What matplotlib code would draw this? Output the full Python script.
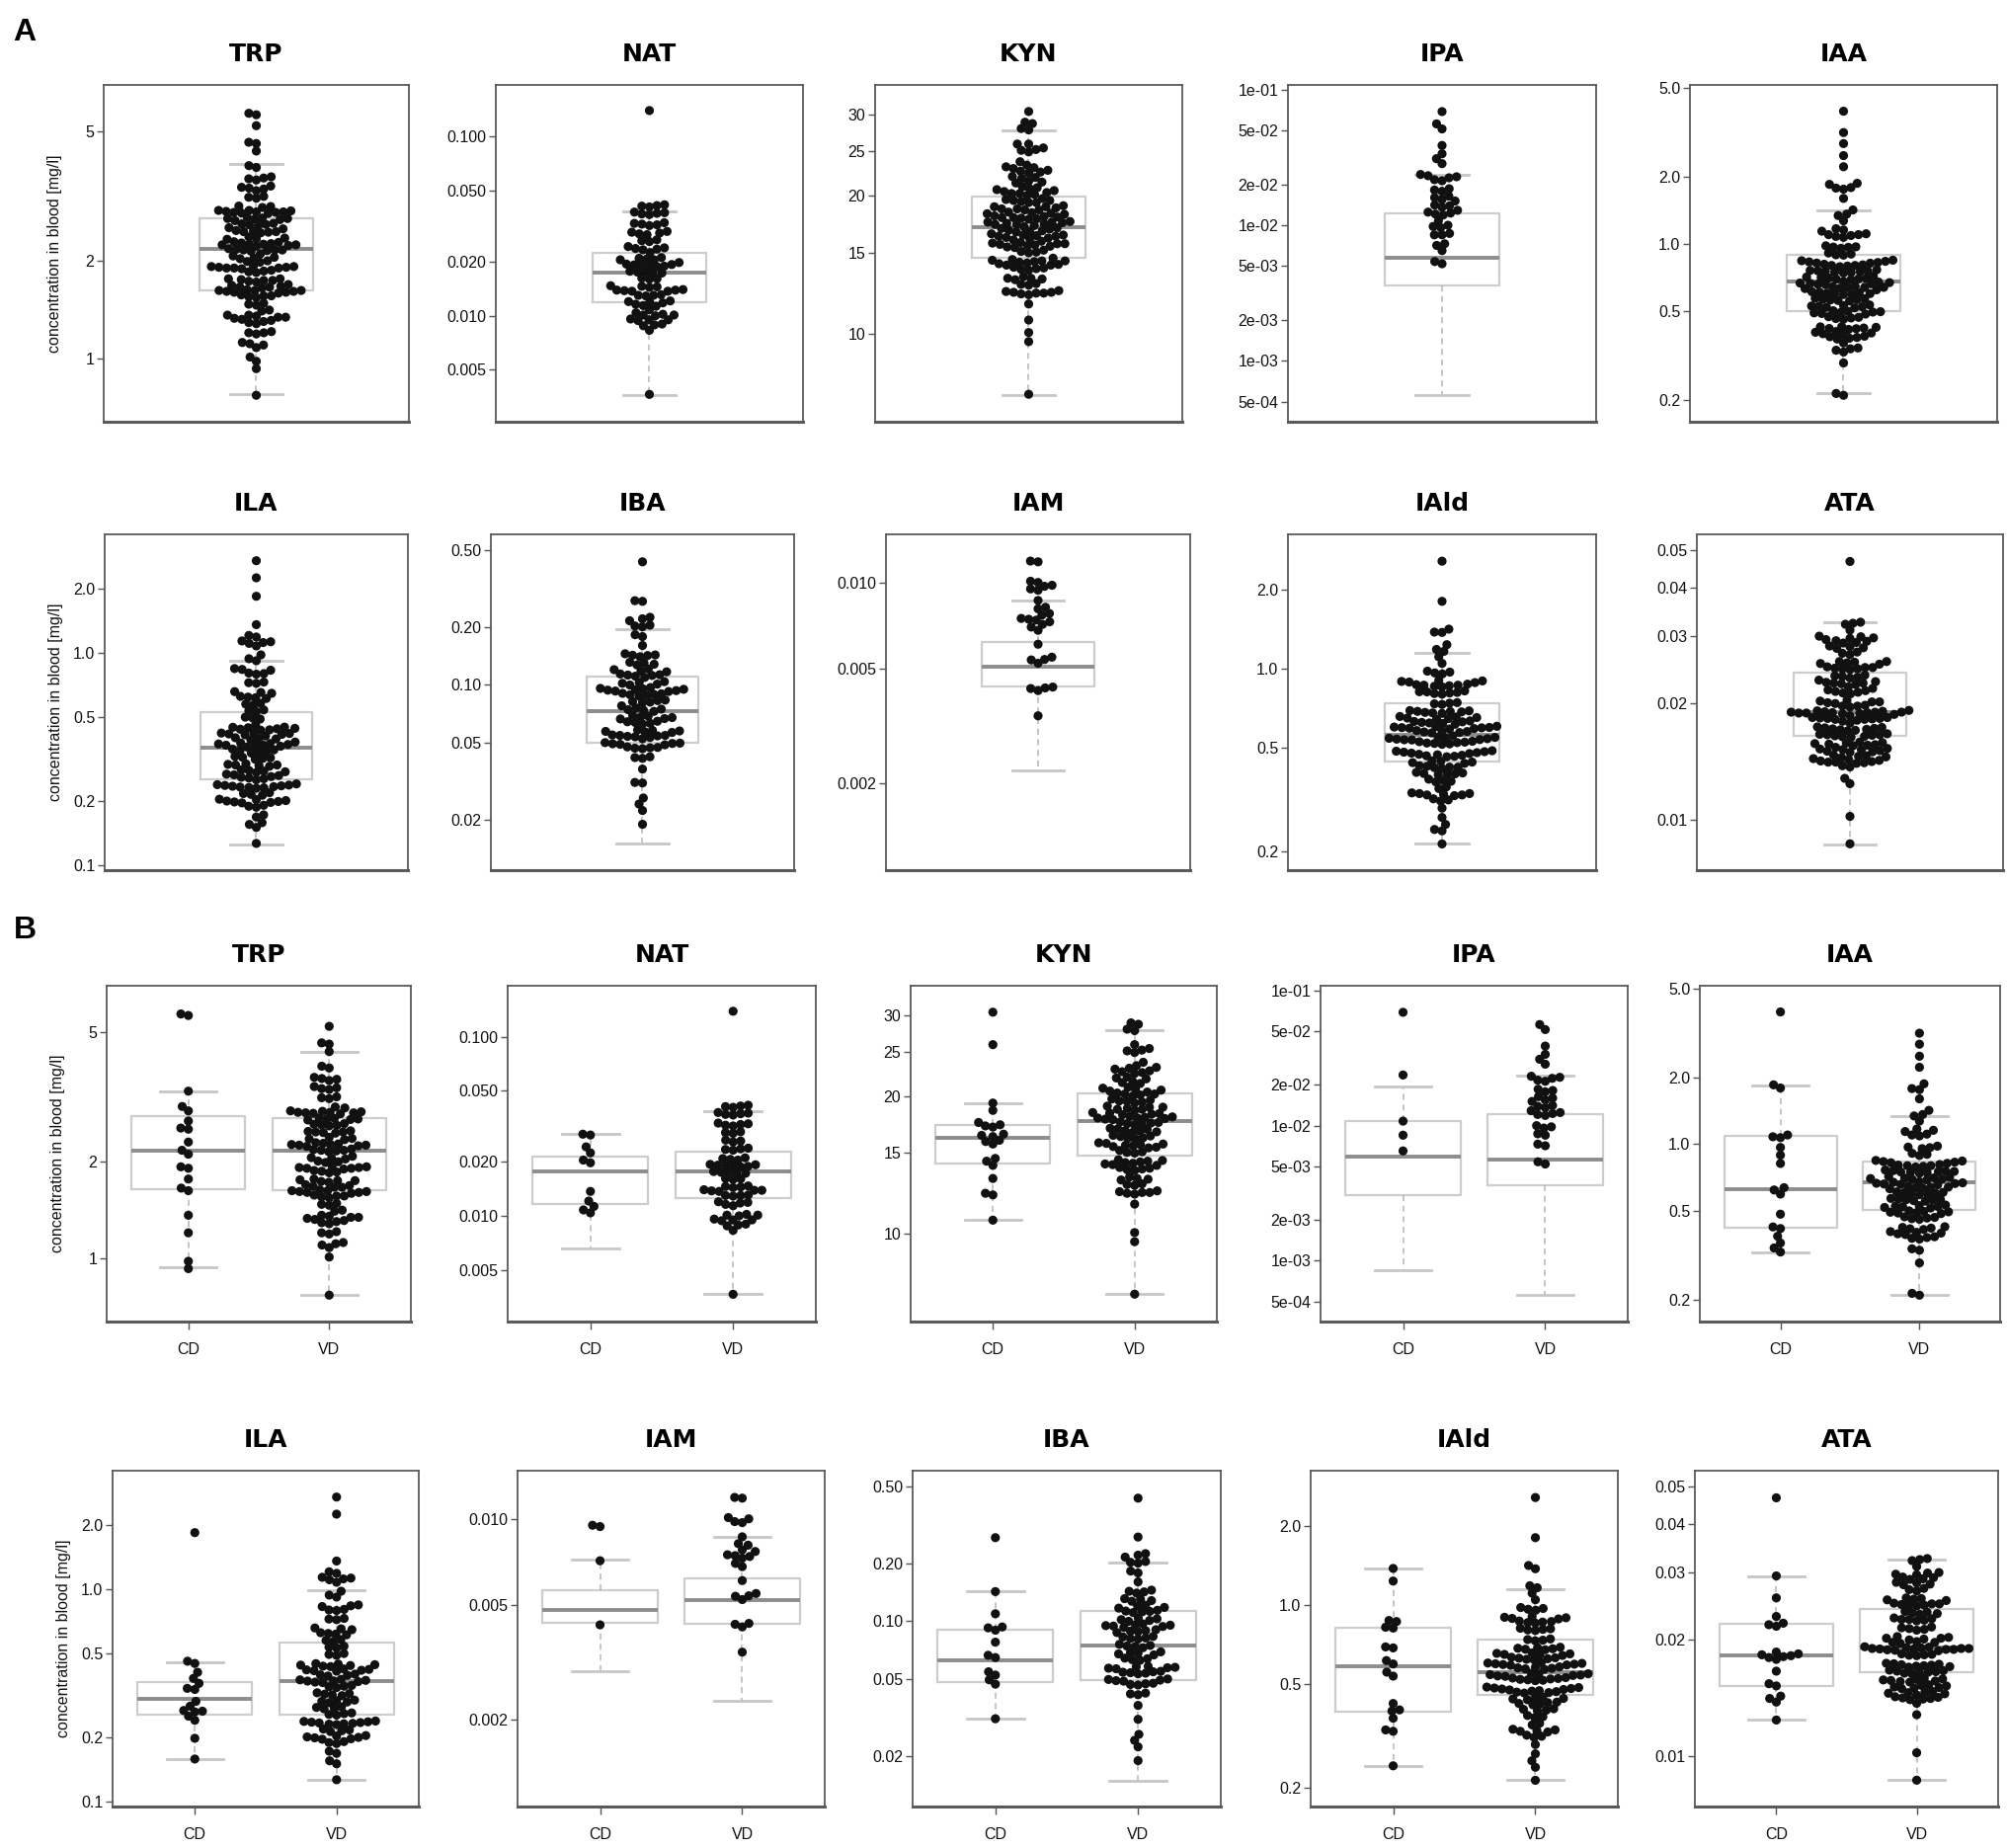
import warnings
import matplotlib
matplotlib.use("Agg")
import matplotlib.pyplot as plt
from matplotlib import patheffects as pe
from matplotlib.ticker import FixedLocator, FixedFormatter, NullLocator
import seaborn as sns

warnings.filterwarnings("ignore")
plt.rcParams['font.family'] = ['Liberation Sans', 'DejaVu Sans']

# ---- data (mg/l) ----
trp_cd = [5.70, 5.64, 3.29, 2.95, 2.86, 2.66, 2.53, 2.51, 2.29, 2.16, 2.10, 1.92, 1.90,
          1.76, 1.65, 1.62, 1.36, 1.20, 0.98, 0.93]
trp_vd = [5.22, 4.64, 4.60, 4.36, 3.93, 3.88, 3.63, 3.60, 3.58, 3.55, 3.40, 3.37, 3.35, 3.33,
          3.16, 3.14, 3.12, 2.94, 2.92, 2.86, 2.85, 2.84, 2.83, 2.83, 2.82, 2.82, 2.81, 2.80,
          2.72, 2.71, 2.70, 2.70, 2.69, 2.68, 2.61, 2.60, 2.59, 2.58, 2.57,
          2.48, 2.47, 2.46, 2.46, 2.45, 2.44, 2.37, 2.35, 2.34, 2.33,
          2.28, 2.27, 2.26, 2.25, 2.25, 2.24, 2.24, 2.23, 2.22, 2.18, 2.17, 2.16, 2.16, 2.15, 2.14,
          2.07, 2.05, 2.04, 2.03, 2.00, 1.99, 1.98, 1.93, 1.92, 1.91, 1.91, 1.90, 1.90, 1.89,
          1.87, 1.86, 1.85, 1.84, 1.76, 1.75, 1.74, 1.74, 1.73, 1.72, 1.69, 1.68, 1.67, 1.66, 1.66,
          1.63, 1.62, 1.62, 1.61, 1.61, 1.60, 1.60, 1.59, 1.57, 1.56, 1.56, 1.55, 1.54,
          1.48, 1.47, 1.46, 1.41, 1.40, 1.36, 1.35, 1.34, 1.34, 1.33, 1.32, 1.31, 1.30, 1.29, 1.28,
          1.21, 1.20, 1.19, 1.12, 1.11, 1.10, 1.08, 1.01, 0.77]

nat_cd = [0.0286, 0.0283, 0.0243, 0.0225, 0.0205, 0.0198, 0.0137, 0.0121, 0.0113, 0.0108, 0.0104]
nat_vd = [0.139, 0.0415, 0.0411, 0.0408, 0.0404, 0.0378, 0.0375, 0.0372, 0.0369, 0.0366,
          0.0330, 0.0327, 0.0324, 0.0321, 0.0318, 0.0295, 0.0292, 0.0289, 0.0265, 0.0262, 0.0259,
          0.0239, 0.0237, 0.0235, 0.0233, 0.0211, 0.0209, 0.0207, 0.0205,
          0.0194, 0.0193, 0.0192, 0.0191, 0.0190, 0.0189, 0.0188, 0.0177, 0.0176, 0.0175, 0.0174, 0.0173,
          0.0162, 0.0161, 0.0160, 0.0147, 0.0146, 0.0145, 0.0144, 0.0140, 0.0139, 0.0139, 0.0138, 0.0137,
          0.0131, 0.0130, 0.0130, 0.0129, 0.0120, 0.0119, 0.0118, 0.0116, 0.0114,
          0.0102, 0.0101, 0.0101, 0.0100, 0.0096, 0.0095, 0.0095, 0.0094, 0.0090, 0.0089, 0.0088,
          0.0083, 0.00365]

kyn_cd = [30.5, 25.9, 19.3, 18.6, 17.5, 17.3, 17.2, 17.1, 16.5, 16.4, 16.3, 16.0, 15.9, 15.7,
          14.6, 14.4, 14.1, 13.2, 12.25, 12.15, 10.7]
kyn_vd = [28.9, 28.7, 28.0, 27.8, 25.9, 25.4, 25.2, 25.1, 24.9, 23.7, 23.3, 23.1, 23.0, 22.9,
          22.7, 22.6, 22.5, 22.4, 22.0, 21.9, 21.8, 21.5, 21.4, 21.3, 20.9, 20.8, 20.7, 20.6, 20.5,
          20.4, 20.3, 20.2, 20.2, 20.1, 20.0, 19.7, 19.6, 19.5, 19.5, 19.4, 19.3,
          19.0, 18.9, 18.9, 18.8, 18.7, 18.7, 18.6, 18.4, 18.35, 18.3, 18.25, 18.2,
          18.05, 18.0, 17.95, 17.9, 17.9, 17.85, 17.8, 17.75, 17.55, 17.5, 17.45, 17.4, 17.35, 17.3,
          17.0, 16.95, 16.9, 16.8, 16.75, 16.7, 16.65, 16.4, 16.35, 16.3, 16.2, 16.15, 16.1,
          15.8, 15.75, 15.7, 15.65, 15.6, 15.55, 15.5, 15.45, 15.4, 15.2, 15.1, 15.05, 15.0,
          14.5, 14.45, 14.4, 14.35, 14.3, 14.25, 14.2, 14.15, 14.1, 13.95, 13.9, 13.85, 13.8, 13.75,
          13.3, 13.2, 13.15, 13.1, 12.85, 12.8, 12.75, 12.4, 12.35, 12.3, 12.3, 12.25, 12.2,
          11.6, 10.05, 9.6, 7.37]

ipa_cd = [0.069, 0.0237, 0.0108, 0.0085, 0.0065]
ipa_vd = [0.056, 0.0514, 0.0388, 0.0337, 0.031, 0.0285, 0.0232, 0.0228, 0.0224, 0.0217, 0.0213,
          0.0186, 0.0182, 0.0178, 0.0164, 0.0160, 0.0155, 0.0151, 0.0141, 0.0139, 0.0136, 0.0129,
          0.0125, 0.0123, 0.0121, 0.0119, 0.0100, 0.0098, 0.0096, 0.0087, 0.0085, 0.0073, 0.0071,
          0.0054, 0.0052]

iaa_cd = [3.94, 1.85, 1.79, 1.10, 1.08, 1.07, 0.967, 0.893, 0.819, 0.637, 0.622, 0.596, 0.484,
          0.424, 0.417, 0.385, 0.359, 0.341, 0.327]
iaa_vd = [3.16, 2.82, 2.49, 2.22, 1.87, 1.78, 1.76, 1.60, 1.42, 1.36, 1.34, 1.27,
          1.17, 1.155, 1.14, 1.11, 1.10, 1.09, 0.98, 0.97, 0.965, 0.955, 0.91, 0.90, 0.89,
          0.845, 0.84, 0.835, 0.83, 0.825, 0.82, 0.81, 0.805, 0.80, 0.80, 0.795, 0.79,
          0.765, 0.76, 0.757, 0.754, 0.752, 0.75, 0.747, 0.744, 0.74,
          0.715, 0.71, 0.706, 0.703, 0.70, 0.697, 0.694, 0.69,
          0.678, 0.674, 0.67, 0.667, 0.665, 0.662, 0.659, 0.656,
          0.645, 0.641, 0.638, 0.636, 0.633, 0.63, 0.61, 0.607, 0.604, 0.601, 0.598, 0.595, 0.592,
          0.57, 0.567, 0.564, 0.562, 0.56, 0.557, 0.554, 0.532, 0.529, 0.526, 0.524, 0.522, 0.519, 0.516,
          0.501, 0.498, 0.496, 0.494, 0.492, 0.49, 0.487, 0.471, 0.468, 0.465, 0.462, 0.459,
          0.425, 0.422, 0.419, 0.416, 0.413, 0.404, 0.401, 0.398, 0.395, 0.392,
          0.383, 0.38, 0.377, 0.374, 0.338, 0.333, 0.292, 0.213, 0.209]

ila_cd = [1.85, 0.459, 0.448, 0.407, 0.381, 0.361, 0.342, 0.338, 0.297, 0.282, 0.269, 0.267,
          0.265, 0.253, 0.242, 0.199, 0.159]
ila_vd = [2.72, 2.26, 1.36, 1.21, 1.19, 1.14, 1.13, 1.12, 1.11, 1.08, 0.98, 0.94, 0.92,
          0.845, 0.837, 0.83, 0.805, 0.80, 0.795, 0.73, 0.725, 0.72, 0.658, 0.652, 0.646,
          0.625, 0.62, 0.616, 0.611, 0.58, 0.575, 0.57, 0.54, 0.535, 0.53, 0.499, 0.494, 0.489,
          0.447, 0.445, 0.442, 0.44, 0.438, 0.435, 0.433, 0.422, 0.42, 0.418, 0.416, 0.414, 0.412,
          0.399, 0.396, 0.394, 0.391, 0.377, 0.375, 0.373, 0.371, 0.37, 0.368, 0.366, 0.364,
          0.353, 0.35, 0.348, 0.345, 0.326, 0.323, 0.321, 0.319, 0.316,
          0.301, 0.299, 0.297, 0.295, 0.293, 0.28, 0.278, 0.276, 0.274, 0.262, 0.26, 0.258, 0.256,
          0.24, 0.239, 0.238, 0.237, 0.236, 0.235, 0.234, 0.233, 0.232, 0.231,
          0.22, 0.218, 0.216, 0.214, 0.205, 0.204, 0.202, 0.201, 0.2, 0.198, 0.197,
          0.192, 0.19, 0.188, 0.173, 0.169, 0.156, 0.151, 0.127]

iba_cd = [0.271, 0.1425, 0.1094, 0.0935, 0.0925, 0.0900, 0.078, 0.0667, 0.0649, 0.0548, 0.0527,
          0.0498, 0.0473, 0.0313]
iba_vd = [0.434, 0.273, 0.224, 0.220, 0.215, 0.204, 0.202, 0.200, 0.182, 0.178, 0.160,
          0.145, 0.143, 0.142, 0.140, 0.131, 0.13, 0.128, 0.127, 0.121, 0.12, 0.118, 0.117,
          0.114, 0.113, 0.1125, 0.112, 0.111, 0.104, 0.103, 0.102, 0.101, 0.100,
          0.097, 0.096, 0.0955, 0.095, 0.0945, 0.094, 0.093, 0.0905, 0.0895, 0.089, 0.0885, 0.0875,
          0.0835, 0.083, 0.082, 0.0815, 0.081, 0.076, 0.075, 0.0745, 0.074, 0.073,
          0.0695, 0.069, 0.0683, 0.0678, 0.067, 0.0645, 0.064, 0.0633, 0.0628,
          0.0585, 0.0582, 0.0578, 0.0575, 0.0572, 0.0568, 0.0551, 0.0548, 0.0545, 0.0542, 0.0539, 0.0535,
          0.0503, 0.05, 0.0496, 0.0493, 0.049, 0.0478, 0.0475, 0.0471, 0.0468,
          0.0425, 0.0421, 0.0417, 0.0367, 0.0311, 0.026, 0.0242, 0.0224, 0.019]

iam_cd = [0.0095, 0.0094, 0.00715, 0.00428]
iam_vd = [0.01187, 0.0118, 0.0101, 0.0100, 0.00978, 0.0097, 0.00866, 0.0082, 0.0081, 0.0078,
          0.0077, 0.0075, 0.00745, 0.0074, 0.0073, 0.0070, 0.00682, 0.0061, 0.0055, 0.0054,
          0.00538, 0.00524, 0.00433, 0.00430, 0.00421, 0.00344]

iald_cd = [1.374, 1.23, 0.87, 0.862, 0.82, 0.814, 0.69, 0.684, 0.612, 0.594, 0.553, 0.534,
           0.42, 0.397, 0.393, 0.369, 0.333, 0.329, 0.243]
iald_vd = [2.56, 1.80, 1.41, 1.37, 1.18, 1.16, 1.106, 1.044, 0.975, 0.967, 0.96, 0.952,
           0.90, 0.895, 0.891, 0.886, 0.882, 0.866, 0.862, 0.858, 0.854, 0.85,
           0.813, 0.809, 0.805, 0.801, 0.797, 0.74, 0.736, 0.732, 0.728,
           0.688, 0.685, 0.682, 0.679, 0.676, 0.673, 0.655, 0.652, 0.649, 0.646, 0.643, 0.64,
           0.63, 0.627, 0.625, 0.622, 0.619, 0.616, 0.601, 0.599, 0.597, 0.595, 0.593, 0.591, 0.589, 0.587,
           0.579, 0.577, 0.574, 0.572, 0.569, 0.567, 0.547, 0.545, 0.543, 0.541, 0.539, 0.537, 0.535, 0.533,
           0.527, 0.525, 0.523, 0.521, 0.519, 0.517, 0.515, 0.513, 0.485, 0.483, 0.481, 0.479, 0.477, 0.475, 0.473,
           0.47, 0.468, 0.466, 0.464, 0.462, 0.46, 0.444, 0.442, 0.439, 0.437, 0.434,
           0.425, 0.423, 0.42, 0.418, 0.415, 0.401, 0.399, 0.396, 0.394, 0.378, 0.374, 0.371,
           0.353, 0.348, 0.335, 0.333, 0.331, 0.329, 0.327, 0.318, 0.315, 0.312,
           0.293, 0.27, 0.254, 0.24, 0.214]

ata_cd = [0.0467, 0.0293, 0.0257, 0.0230, 0.0221, 0.0219, 0.0217, 0.0186, 0.0184, 0.0183, 0.0182,
          0.0181, 0.0180, 0.0178, 0.0166, 0.0154, 0.0152, 0.0143, 0.0141, 0.0138, 0.0124]
ata_vd = [0.0325, 0.0323, 0.0321, 0.031, 0.0299, 0.0298, 0.0296, 0.0295, 0.0291, 0.029, 0.0288, 0.0287,
          0.0282, 0.0281, 0.0279, 0.0278, 0.0272, 0.027, 0.0268, 0.0257, 0.0256, 0.0255, 0.0254, 0.0253,
          0.0249, 0.0248, 0.0248, 0.0247, 0.0246, 0.0246, 0.0245, 0.0237, 0.0236, 0.0235, 0.0234, 0.0233,
          0.0228, 0.0227, 0.0226, 0.0226, 0.0225, 0.0224, 0.0216, 0.0215, 0.0214, 0.0213, 0.0212,
          0.0204, 0.0203, 0.0202, 0.0202, 0.0201, 0.0200, 0.0198, 0.0197, 0.0197, 0.0196,
          0.0192, 0.01915, 0.0191, 0.01905, 0.0190, 0.0190, 0.0190, 0.01895, 0.01895, 0.0189, 0.0189,
          0.01885, 0.0188, 0.01875, 0.0184, 0.01835, 0.0183, 0.01825, 0.0182,
          0.0174, 0.01735, 0.0173, 0.01725, 0.0172, 0.01715, 0.0171, 0.01705, 0.0170,
          0.0167, 0.01665, 0.0166, 0.01655, 0.0165, 0.01645, 0.0164, 0.01635,
          0.0159, 0.01585, 0.0158, 0.01575, 0.0157, 0.01565, 0.0156, 0.01555,
          0.0153, 0.01525, 0.0152, 0.0151, 0.01505, 0.0150, 0.01495,
          0.0147, 0.01465, 0.0146, 0.01455, 0.0145, 0.0144, 0.01425, 0.0142, 0.01415, 0.0141, 0.01405, 0.0140,
          0.0137, 0.0128, 0.0102, 0.00866]

# box statistics: [lower whisker, Q1, median, Q3, upper whisker]
trp_box_all = [0.774, 1.624, 2.175, 2.714, 3.99]
trp_box_cd = [0.94, 1.64, 2.16, 2.76, 3.29]
trp_box_vd = [0.77, 1.62, 2.16, 2.71, 4.36]
nat_box_all = [0.0036, 0.0119, 0.0175, 0.0225, 0.0381]
nat_box_cd = [0.0066, 0.0117, 0.0178, 0.0215, 0.0286]
nat_box_vd = [0.00367, 0.0125, 0.0178, 0.0229, 0.0385]
kyn_box_all = [7.35, 14.6, 17.1, 19.9, 27.7]
kyn_box_cd = [10.7, 14.2, 16.2, 17.3, 19.3]
kyn_box_vd = [7.37, 14.8, 17.6, 20.3, 27.9]
ipa_box_all = [0.000563, 0.0036, 0.00573, 0.01216, 0.0237]
ipa_box_cd = [0.00085, 0.00308, 0.0059, 0.0108, 0.0194]
ipa_box_vd = [0.00056, 0.00365, 0.00563, 0.0121, 0.0234]
iaa_box_all = [0.213, 0.50, 0.678, 0.895, 1.416]
iaa_box_cd = [0.327, 0.422, 0.627, 1.086, 1.84]
iaa_box_vd = [0.209, 0.505, 0.673, 0.839, 1.34]
ila_box_all = [0.126, 0.254, 0.357, 0.529, 0.921]
ila_box_cd = [0.159, 0.258, 0.305, 0.368, 0.453]
ila_box_vd = [0.127, 0.256, 0.371, 0.561, 0.99]
iba_box_all = [0.0151, 0.050, 0.0731, 0.111, 0.195]
iba_box_cd = [0.0313, 0.0487, 0.063, 0.0906, 0.1425]
iba_box_vd = [0.0149, 0.0496, 0.0745, 0.1125, 0.2006]
iam_box_all = [0.00223, 0.00435, 0.00509, 0.0062, 0.00864]
iam_box_cd = [0.00296, 0.00436, 0.00484, 0.00567, 0.00719]
iam_box_vd = [0.00233, 0.00432, 0.0052, 0.00622, 0.00866]
iald_box_all = [0.215, 0.442, 0.556, 0.734, 1.149]
iald_box_cd = [0.243, 0.391, 0.581, 0.817, 1.374]
iald_box_vd = [0.214, 0.452, 0.553, 0.734, 1.146]
ata_box_all = [0.00865, 0.01646, 0.01897, 0.024, 0.0324]
ata_box_cd = [0.0124, 0.0152, 0.0182, 0.0220, 0.0293]
ata_box_vd = [0.00866, 0.0165, 0.0191, 0.0240, 0.0323]

# y tick labels
trp_ticks = ['1', '2', '5']
nat_ticks = ['0.005', '0.010', '0.020', '0.050', '0.100']
kyn_ticks = ['10', '15', '20', '25', '30']
ipa_ticks = ['5e-04', '1e-03', '2e-03', '5e-03', '1e-02', '2e-02', '5e-02', '1e-01']
iaa_ticks = ['0.2', '0.5', '1.0', '2.0', '5.0']
ila_ticks = ['0.1', '0.2', '0.5', '1.0', '2.0']
iba_ticks = ['0.02', '0.05', '0.10', '0.20', '0.50']
iam_ticks = ['0.002', '0.005', '0.010']
iald_ticks = ['0.2', '0.5', '1.0', '2.0']
ata_ticks = ['0.01', '0.02', '0.03', '0.04', '0.05']

groups = ['CD', 'VD']

# axis limits
ylims = {'TRP': (0.638, 6.97), 'NAT': (0.00257, 0.193), 'KYN': (6.42, 34.85),
         'IPA': (0.000355, 0.1085), 'IAA': (0.159, 5.17), 'ILA': (0.095, 3.62),
         'IBA': (0.0110, 0.602), 'IAM': (0.001, 0.0147), 'IAld': (0.170, 3.24),
         'ATA': (0.0074, 0.0549)}

data = {
    'TRP': (trp_cd, trp_vd, trp_box_all, trp_box_cd, trp_box_vd, trp_ticks),
    'NAT': (nat_cd, nat_vd, nat_box_all, nat_box_cd, nat_box_vd, nat_ticks),
    'KYN': (kyn_cd, kyn_vd, kyn_box_all, kyn_box_cd, kyn_box_vd, kyn_ticks),
    'IPA': (ipa_cd, ipa_vd, ipa_box_all, ipa_box_cd, ipa_box_vd, ipa_ticks),
    'IAA': (iaa_cd, iaa_vd, iaa_box_all, iaa_box_cd, iaa_box_vd, iaa_ticks),
    'ILA': (ila_cd, ila_vd, ila_box_all, ila_box_cd, ila_box_vd, ila_ticks),
    'IBA': (iba_cd, iba_vd, iba_box_all, iba_box_cd, iba_box_vd, iba_ticks),
    'IAM': (iam_cd, iam_vd, iam_box_all, iam_box_cd, iam_box_vd, iam_ticks),
    'IAld': (iald_cd, iald_vd, iald_box_all, iald_box_cd, iald_box_vd, iald_ticks),
    'ATA': (ata_cd, ata_vd, ata_box_all, ata_box_cd, ata_box_vd, ata_ticks),
}

# panel frames in pixels: left, top, right, bottom
rects_a = {'TRP': (105, 86, 414, 427), 'NAT': (502, 86, 813, 427), 'KYN': (886, 86, 1197, 427),
           'IPA': (1304, 86, 1616, 427), 'IAA': (1711, 86, 2022, 427),
           'ILA': (106, 541, 413, 881), 'IBA': (497, 541, 804, 881), 'IAM': (897, 541, 1205, 881),
           'IAld': (1304, 541, 1616, 881), 'ATA': (1718, 541, 2028, 881)}
rects_b = {'TRP': (108, 998, 416, 1338), 'NAT': (514, 998, 826, 1338), 'KYN': (922, 998, 1232, 1338),
           'IPA': (1337, 998, 1648, 1338), 'IAA': (1721, 998, 2025, 1338),
           'ILA': (114, 1489, 424, 1829), 'IAM': (524, 1489, 835, 1829), 'IBA': (924, 1489, 1236, 1829),
           'IAld': (1327, 1489, 1638, 1829), 'ATA': (1716, 1489, 2023, 1829)}

W, H = 2033, 1871
fig = plt.figure(figsize=(W / 100, H / 100), dpi=100)

DOT = '#111111'
SWARM_SIZE = 5.3    # spacing used by the swarm layout (points overlap a little, like R beeswarm)
DOT_GROW = 1.3      # extra stroke so the drawn dots are bigger than the spacing


def to_stats(b):
    return {'whislo': b[0], 'q1': b[1], 'med': b[2], 'q3': b[3], 'whishi': b[4], 'fliers': []}


def panel(rect, name, split, ylabel):
    cd, vd, box_all, box_cd, box_vd, ticklabels = data[name]
    l, t, r, b = rect
    ax = fig.add_axes([l / W, 1 - b / H, (r - l) / W, (b - t) / H])
    ax.set_yscale('log')
    ax.set_ylim(ylims[name])
    n0 = len(ax.collections)
    if split:
        xlim = (-0.58, 1.58)
        cats = [groups[0]] * len(cd) + [groups[1]] * len(vd)
        sns.swarmplot(x=cats, y=cd + vd, order=groups, color=DOT, size=SWARM_SIZE,
                      linewidth=0, ax=ax, zorder=3)
        stats = [to_stats(box_cd), to_stats(box_vd)]
        pos, bw, cw = [0, 1], 0.81, 0.40
    else:
        xlim = (-1.0, 1.0)
        sns.swarmplot(y=cd + vd, color=DOT, size=SWARM_SIZE, linewidth=0, ax=ax, zorder=3)
        stats = [to_stats(box_all)]
        pos, bw, cw = [0], 0.74, 0.34
    for coll in ax.collections[n0:]:
        coll.set_path_effects([pe.Stroke(linewidth=DOT_GROW, foreground=DOT), pe.Normal()])
    ax.bxp(stats, positions=pos, widths=bw, capwidths=cw, showfliers=False,
           manage_ticks=False, zorder=2,
           boxprops=dict(color='#cdcdcd', linewidth=1.6),
           medianprops=dict(color='#8d8d8d', linewidth=2.8),
           whiskerprops=dict(color='#b5b5b5', linewidth=1.1, linestyle=(0, (4, 3))),
           capprops=dict(color='#c6c6c6', linewidth=2.0))
    ax.set_xlim(xlim)
    ax.set_ylim(ylims[name])
    tick_vals = [float(s) for s in ticklabels]
    ax.yaxis.set_major_locator(FixedLocator(tick_vals))
    ax.yaxis.set_major_formatter(FixedFormatter(ticklabels))
    ax.yaxis.set_minor_locator(NullLocator())
    ax.tick_params(axis='y', length=5, width=1.0, color='#555555', labelsize=11.5,
                   pad=2, labelcolor='#111111')
    if split:
        ax.set_xticks(pos)
        ax.set_xticklabels(groups)
        ax.tick_params(axis='x', length=6, width=1.0, color='#555555', labelsize=11.5,
                       pad=9, labelcolor='#111111')
    else:
        ax.set_xticks([])
    ax.set_xlabel('')
    for s in ax.spines.values():
        s.set_color('#5a5a5a')
        s.set_linewidth(1.3)
    ax.spines['bottom'].set_linewidth(2.2)
    if ylabel:
        ax.set_ylabel('concentration in blood [mg/l]', fontsize=11.5, color='#111111')
        ax.yaxis.set_label_coords(-42 / (r - l), 0.5)
    else:
        ax.set_ylabel('')
    ax.annotate(name, xy=(0.5, 1), xycoords='axes fraction', xytext=(0, 22.5),
                textcoords='offset points', ha='center', va='center',
                fontsize=18, fontweight='bold', family='DejaVu Sans')
    return ax


for nm, rc in rects_a.items():
    panel(rc, nm, False, nm in ('TRP', 'ILA'))
for nm, rc in rects_b.items():
    panel(rc, nm, True, nm in ('TRP', 'ILA'))

fig.text(25 / W, 1 - 33 / H, 'A', ha='center', va='center', fontsize=23, fontweight='bold')
fig.text(25 / W, 1 - 942 / H, 'B', ha='center', va='center', fontsize=23, fontweight='bold')

fig.savefig('out.png', dpi=100)
